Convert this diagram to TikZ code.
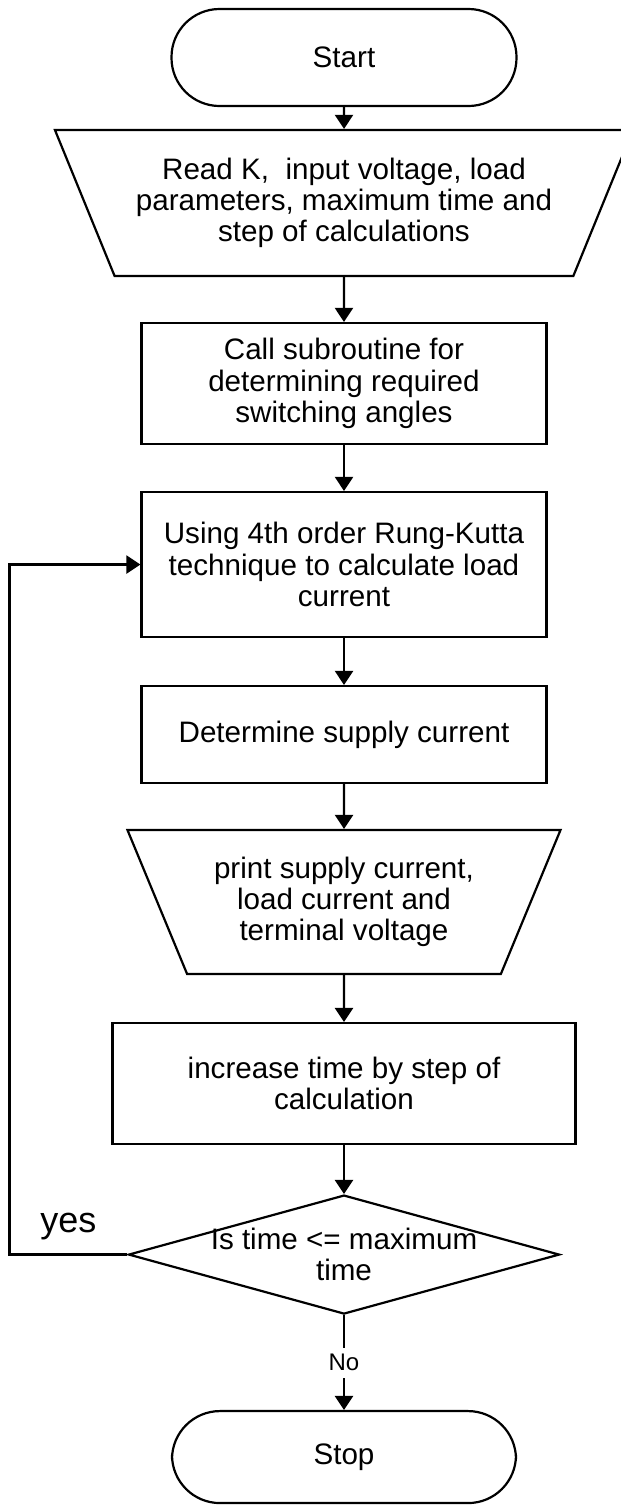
\documentclass[tikz,border=0pt]{standalone}
\usepackage{fontspec}
\setmainfont{Liberation Sans}
\usepackage{tikz}
\usetikzlibrary{shapes,arrows.meta,positioning}

\begin{document}
\begin{tikzpicture}[x=0.5pt,y=-0.5pt,->,>={Triangle[width=9pt,length=7pt]},
                    line width=1.1pt,font=\fontsize{14.8}{15.6}\selectfont,
                    terminal/.style={draw,rectangle,rounded corners=24pt,
                                     minimum width=172.5pt,minimum height=48.5pt},
                    process/.style={draw,rectangle,minimum width=202.5pt,align=center},
                    io/.style={draw,trapezium,trapezium stretches body,
                               shape border rotate=180,trapezium angle=60,align=center},
                    decision/.style={draw,diamond,minimum width=215.5pt,
                                     minimum height=59.5pt,inner sep=0pt}]

  \useasboundingbox (0,0) rectangle (621,1505);

  \node[terminal]                                    (start)  at (344,57.5)  {Start};
  \node[io,minimum width=289pt,minimum height=73pt]  (read)   [below=10.9pt of start]
       {Read K,\ \ input voltage, load\\parameters, maximum time and\\step of calculations};
  \node[process,minimum height=60.5pt]               (angles) [below=22.4pt of read]
       {Call subroutine for\\determining required\\switching angles};
  \node[process,minimum height=72.5pt]               (rk)     [below=22.9pt of angles]
       {Using 4th order Rung-Kutta\\technique to calculate load\\current};
  \node[process,minimum height=48.5pt]               (supply) [below=23.4pt of rk]
       {Determine supply current};
  \node[io,minimum width=216.5pt,minimum height=72pt] (print) [below=22.4pt of supply]
       {print supply current,\\load current and\\terminal voltage};
  \node[process,minimum width=231.5pt,minimum height=60.5pt] (incr) [below=23.4pt of print]
       {increase time by step of\\calculation};
  \node[decision,label={[align=center]center:Is time <= maximum\\time}] (check) [below=24.4pt of incr] {};
  \node[terminal,minimum width=172pt,minimum height=46pt] (stop) [below=47.4pt of check] {Stop};

  \path (start)  edge (read)
        (read)   edge (angles)
        (angles) edge (rk)
        (rk)     edge (supply)
        (supply) edge (print)
        (print)  edge (incr)
        (incr)   edge (check)
        (check)  edge node[fill=white,font=\fontsize{12}{14}\selectfont] {No} (stop);

  \draw (check.west) -| node[pos=0.25,above=7pt,inner sep=0pt,font=\fontsize{18}{20}\selectfont] {yes}
        ([xshift=-65.5pt]rk.west) -- (rk.west);
\end{tikzpicture}
\end{document}
